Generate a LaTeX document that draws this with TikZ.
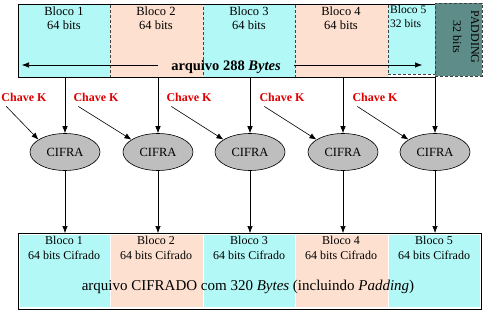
\documentclass[tikz,border=0pt]{standalone}
\usepackage{fontspec}
\setmainfont{Liberation Serif}
\usetikzlibrary{arrows.meta,shapes.geometric,calc}
\definecolor{cyanb}{HTML}{B2F8F6}
\definecolor{peach}{HTML}{FDE0CF}
\definecolor{padcol}{HTML}{5E8C88}
\definecolor{cifgray}{HTML}{BEBEBE}
\definecolor{keyred}{HTML}{E00000}
\begin{document}
\begin{tikzpicture}[x=1pt,y=-1pt,
  arr/.style={-{Latex[length=7pt,width=5.5pt]}, line width=0.6pt},
  blk/.style={draw=black!75, densely dashed, line width=0.5pt, inner sep=0, anchor=north west},
  fblk/.style={inner sep=0, anchor=north west},
  txt/.style={anchor=north, align=center, inner sep=0, font=\fontsize{12.5}{14}\selectfont},
  btxt/.style={anchor=north, align=center, inner sep=0, font=\fontsize{12}{15}\selectfont},
  cif/.style={ellipse, draw, fill=cifgray, line width=0.6pt, minimum width=70pt, minimum height=37pt, inner sep=0, font=\fontsize{12.5}{14}\selectfont},
  key/.style={text=keyred, inner sep=1pt, font=\fontsize{12}{13}\selectfont\bfseries}]
\useasboundingbox (0,0) rectangle (484,313);
\fill[white] (0,0) rectangle (484,313);
% ---- top file ----
\node[blk, fill=cyanb, minimum width=92pt, minimum height=73pt] (t1) at (18,4) {};
\node[blk, fill=peach, minimum width=93pt, minimum height=73pt] (t2) at (110,4) {};
\node[blk, fill=cyanb, minimum width=92pt, minimum height=73pt] (t3) at (203,4) {};
\node[blk, fill=peach, minimum width=93pt, minimum height=73pt] (t4) at (295,4) {};
\node[blk, fill=cyanb, minimum width=47pt, minimum height=70pt] (t5) at (388,4) {};
\node[draw, line width=0.7pt, inner sep=0, anchor=north west, minimum width=417pt, minimum height=73pt] (tframe) at (18,4) {};
\node[blk, fill=padcol, minimum width=47pt, minimum height=73pt] (tp) at (435,3) {};
\node[txt] (t1l) at (64,7) {Bloco 1\\64 bits};
\node[txt] (t2l) at (156,7) {Bloco 2\\64 bits};
\node[txt] (t3l) at (249,7) {Bloco 3\\64 bits};
\node[txt] (t4l) at (341,7) {Bloco 4\\64 bits};
\node[txt, anchor=north west, align=left, font=\fontsize{11.5}{14}\selectfont] (t5l) at (390,5) {Bloco 5\\32 bits};
\node[align=center, inner sep=0, rotate=-90, font=\fontsize{12}{18}\selectfont] (tpl) at (466,37) {PADDING\\32 bits};
\node[inner sep=13pt, font=\fontsize{14.5}{16}\selectfont\bfseries] (arq) at (226,67) {arquivo 288 \textit{Bytes}};
\coordinate (aL) at (22,65);
\coordinate (aR) at (422,65);
\draw[arr] (arq.west |- aL) -- (aL);
\draw[arr] (arq.east |- aR) -- (aR);
% ---- ciphers ----
\node[cif] (c1) at (65,152) {CIFRA};
\node[cif] (c2) at (158,152) {CIFRA};
\node[cif] (c3) at (250,152) {CIFRA};
\node[cif] (c4) at (343,152) {CIFRA};
\node[cif] (c5) at (435,152) {CIFRA};
\draw[arr] (c1.north |- tframe.south) -- (c1.north);
\draw[arr] (c2.north |- tframe.south) -- (c2.north);
\draw[arr] (c3.north |- tframe.south) -- (c3.north);
\draw[arr] (c4.north |- tframe.south) -- (c4.north);
\draw[arr] (c5.north |- tframe.south) -- (c5.north);
% ---- keys ----
\node[key] (k1) at (24,97) {Chave K};
\node[key] (k2) at (96,97) {Chave K};
\node[key] (k3) at (189,97) {Chave K};
\node[key] (k4) at (282,97) {Chave K};
\node[key] (k5) at (375,97) {Chave K};
\draw[arr] ([xshift=6pt,yshift=-4pt]k1.south west) -- (c1.155);
\draw[arr] ([xshift=6pt,yshift=-4pt]k2.south west) -- (c2.155);
\draw[arr] ([xshift=6pt,yshift=-4pt]k3.south west) -- (c3.155);
\draw[arr] ([xshift=6pt,yshift=-4pt]k4.south west) -- (c4.155);
\draw[arr] ([xshift=6pt,yshift=-4pt]k5.south west) -- (c5.155);
% ---- bottom file ----
\node[draw, line width=0.8pt, inner sep=0, anchor=north west, minimum width=463pt, minimum height=76pt] (bframe) at (18,233) {};
\node[fblk, fill=cyanb, minimum width=90pt, minimum height=72pt] (b1) at (19.5,234.5) {};
\node[fblk, fill=peach, minimum width=92pt, minimum height=72pt] (b2) at (110.5,234.5) {};
\node[fblk, fill=cyanb, minimum width=91pt, minimum height=72pt] (b3) at (203.5,234.5) {};
\node[fblk, fill=peach, minimum width=92pt, minimum height=72pt] (b4) at (295.5,234.5) {};
\node[fblk, fill=cyanb, minimum width=91pt, minimum height=72pt] (b5) at (388.5,234.5) {};
\draw[arr] (c1.south) -- (c1.south |- bframe.north);
\draw[arr] (c2.south) -- (c2.south |- bframe.north);
\draw[arr] (c3.south) -- (c3.south |- bframe.north);
\draw[arr] (c4.south) -- (c4.south |- bframe.north);
\draw[arr] (c5.south) -- (c5.south |- bframe.north);
\node[btxt] (b1l) at (64,236) {Bloco 1\\64 bits Cifrado};
\node[btxt] (b2l) at (156,236) {Bloco 2\\64 bits Cifrado};
\node[btxt] (b3l) at (249,236) {Bloco 3\\64 bits Cifrado};
\node[btxt] (b4l) at (341,236) {Bloco 4\\64 bits Cifrado};
\node[btxt] (b5l) at (434,236) {Bloco 5\\64 bits Cifrado};
\node[inner sep=0, font=\fontsize{15}{17}\selectfont] (bcap) at (248,287) {arquivo CIFRADO com 320 \textit{Bytes} (incluindo \textit{Padding})};
\end{tikzpicture}
\end{document}
